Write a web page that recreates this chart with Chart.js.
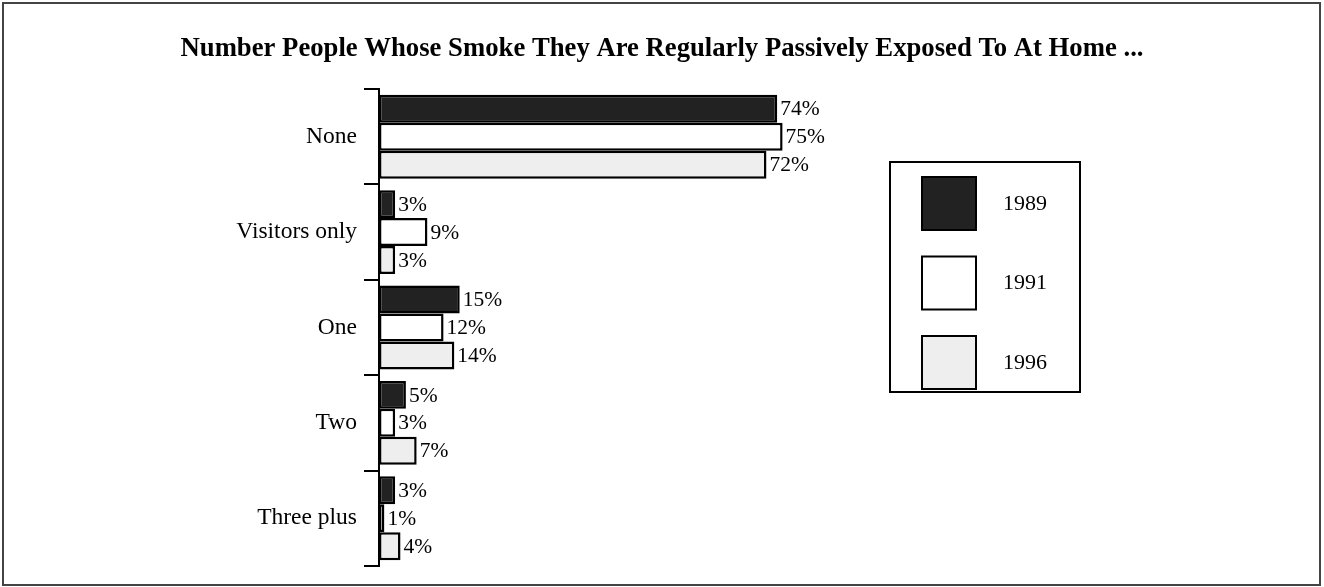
<!DOCTYPE html>
<html lang="en">
<head>
    <meta charset="UTF-8">
    <script src="https://cdn.jsdelivr.net/npm/chart.js"></script>
    <style>
        body, html {
            margin: 0;
            padding: 0;
            background: #fff;
        }
        #wrap {
            width: 1324px;
            height: 587px;
        }
    </style>
</head>
<body>
    <div id="wrap"><canvas id="chart"></canvas></div>
    <script>
        const categories = ['None', 'Visitors only', 'One', 'Two', 'Three plus'];
        const years = ['1989', '1991', '1996'];
        const values1989 = [74, 3, 15, 5, 3];
        const values1991 = [75, 9, 12, 3, 1];
        const values1996 = [72, 3, 14, 7, 4];
        const fills = ['#222222', '#ffffff', '#eeeeee'];

        const serif = "'Liberation Serif', 'Times New Roman', serif";

        // percent labels at bar ends
        const valueLabels = {
            id: 'valueLabels',
            afterDatasetsDraw(chart) {
                const ctx = chart.ctx;
                ctx.save();
                ctx.font = '21.5px ' + serif;
                ctx.fillStyle = '#000';
                ctx.textBaseline = 'middle';
                ctx.textAlign = 'left';
                chart.data.datasets.forEach((ds, i) => {
                    chart.getDatasetMeta(i).data.forEach((bar, j) => {
                        ctx.fillText(ds.data[j] + '%', bar.x + 3, bar.y + 1);
                    });
                });
                ctx.restore();
            }
        };

        // outer frame + boxed legend on the right
        const frameAndLegend = {
            id: 'frameAndLegend',
            afterDraw(chart) {
                const ctx = chart.ctx;
                ctx.save();
                ctx.strokeStyle = '#444';
                ctx.lineWidth = 2;
                ctx.strokeRect(3, 3, 1317, 582);

                ctx.strokeStyle = '#000';
                ctx.fillStyle = '#fff';
                ctx.fillRect(890, 162, 190, 230);
                ctx.strokeRect(890, 162, 190, 230);

                ctx.font = '22px ' + serif;
                ctx.textBaseline = 'middle';
                chart.data.datasets.forEach((ds, i) => {
                    const top = 177 + i * 79.5;
                    ctx.fillStyle = ds.backgroundColor;
                    ctx.fillRect(922, top, 54, 53);
                    ctx.strokeRect(922, top, 54, 53);
                    ctx.fillStyle = '#000';
                    ctx.fillText(ds.label, 1003, top + 27);
                });
                ctx.restore();
            }
        };

        const datasets = [values1989, values1991, values1996].map((vals, i) => ({
            label: years[i],
            data: vals,
            backgroundColor: fills[i],
            borderColor: '#000',
            borderWidth: 2.5,
            borderSkipped: false,
            barPercentage: 1,
            categoryPercentage: 0.88
        }));

        new Chart(document.getElementById('chart'), {
            type: 'bar',
            data: { labels: categories, datasets },
            options: {
                indexAxis: 'y',
                responsive: true,
                maintainAspectRatio: false,
                animation: false,
                layout: { padding: { top: 0, bottom: 21, left: 0, right: 0 } },
                scales: {
                    x: {
                        display: false,
                        min: 0,
                        max: 175.6
                    },
                    y: {
                        afterFit(scale) { scale.width = 379; },
                        border: { display: true, color: '#000', width: 2 },
                        grid: {
                            offset: true,
                            drawOnChartArea: false,
                            drawTicks: true,
                            tickLength: 15,
                            color: '#000',
                            lineWidth: 2
                        },
                        ticks: {
                            color: '#000',
                            padding: 7,
                            font: { family: serif, size: 23.5 }
                        }
                    }
                },
                plugins: {
                    legend: { display: false },
                    tooltip: { enabled: false },
                    title: {
                        display: true,
                        text: 'Number People Whose Smoke They Are Regularly Passively Exposed To At Home ...',
                        color: '#000',
                        font: { family: serif, size: 26.7, weight: 'bold' },
                        padding: { top: 33, bottom: 24 }
                    }
                }
            },
            plugins: [valueLabels, frameAndLegend]
        });
    </script>
</body>
</html>
